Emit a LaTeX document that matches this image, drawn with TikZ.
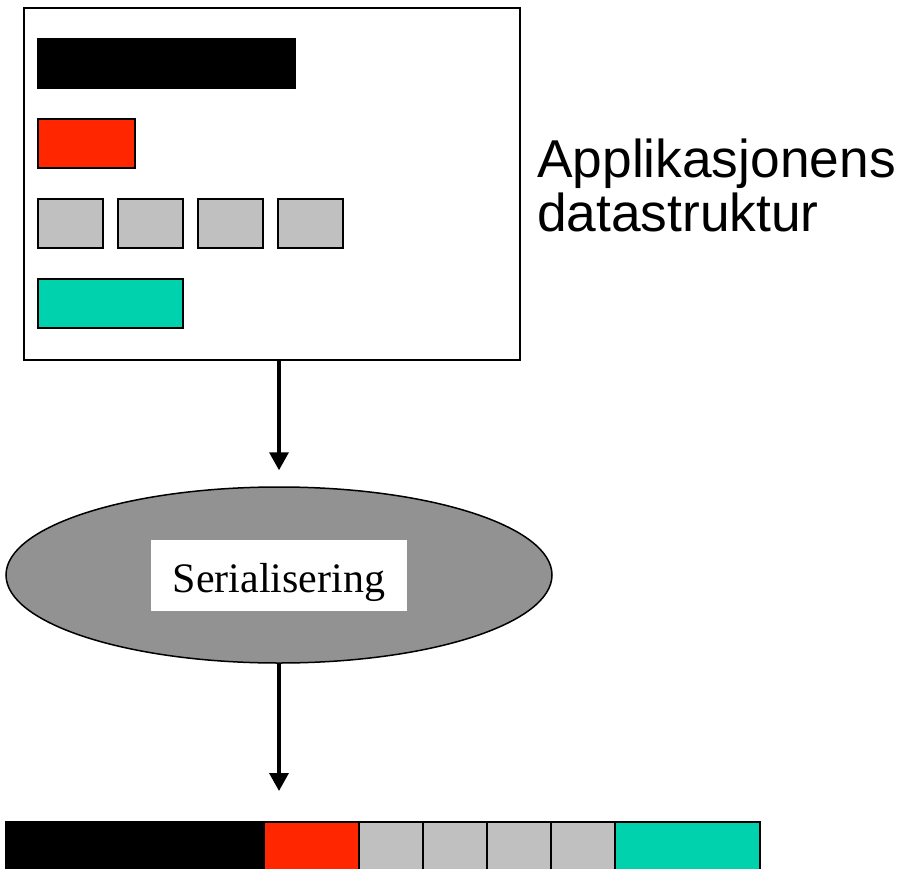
\documentclass[tikz,border=0pt]{standalone}
\usepackage{fontspec}
\setmainfont{Liberation Serif}
\newfontfamily\arialfont{Liberation Sans}
\usetikzlibrary{arrows.meta,shapes.geometric,positioning}
\definecolor{redfill}{RGB}{255,38,0}
\definecolor{tealfill}{RGB}{0,210,173}
\definecolor{greyfill}{RGB}{192,192,192}
\definecolor{ovalfill}{RGB}{146,146,146}
\tikzset{
  cell/.style={draw=black, line width=2pt, anchor=north west, inner sep=0pt, outer sep=0pt,
    minimum width=#1, minimum height=49pt},
  strip/.style={draw=black, line width=1.5pt, anchor=north west, inner sep=0pt, outer sep=0pt,
    minimum width=#1, minimum height=50pt},
  flow/.style={line width=3.5pt, -{Triangle[width=19pt,length=18pt]}},
}
\begin{document}
\begin{tikzpicture}[x=1pt, y=-1pt]
\useasboundingbox (0,0) rectangle (899,869);
\fill[white] (0,0) rectangle (899,869);

% application data structure
\node[draw=black, line width=2pt, anchor=north west, inner sep=0pt,
  minimum width=496pt, minimum height=352pt] (app) at (23,7) {};
\node[cell=257pt, fill=black] (b1) at (38,39) {};
\node[cell=97pt, fill=redfill] (r1) at (38,119) {};
\node[cell=65pt, fill=greyfill] (g1) at (38,199) {};
\node[cell=65pt, fill=greyfill] (g2) at (118,199) {};
\node[cell=65pt, fill=greyfill] (g3) at (198,199) {};
\node[cell=65pt, fill=greyfill] (g4) at (278,199) {};
\node[cell=145pt, fill=tealfill] (t1) at (38,279) {};

\node[anchor=north west, inner sep=0pt, align=left,
  font=\arialfont\fontsize{53.3}{53.5}\selectfont] (lbl) at (537,139)
  {Applikasjonens\\datastruktur};

% serialisation step
\node[ellipse, draw=black, line width=1.5pt, fill=ovalfill, inner sep=0pt,
  minimum width=546pt, minimum height=176pt] (ser) at (279,575) {};
\node[fill=white, inner sep=0pt, minimum width=256pt, minimum height=71pt] (serbox) at (279,575.5) {};
\node[inner sep=0pt, anchor=base, font=\fontsize{42}{42}\selectfont] (sertxt) at (279,592) {Serialisering};

% serialised byte stream
\node[strip=258pt, fill=black] (s1) at (6,822) {};
\node[strip=95pt, fill=redfill] (s2) at (264,822) {};
\node[strip=64pt, fill=greyfill] (s3) at (359,822) {};
\node[strip=64pt, fill=greyfill] (s4) at (423,822) {};
\node[strip=64pt, fill=greyfill] (s5) at (487,822) {};
\node[strip=64pt, fill=greyfill] (s6) at (551,822) {};
\node[strip=145pt, fill=tealfill] (s7) at (615,822) {};

\coordinate (bytestop) at (279,822);
\draw[flow, shorten >=16pt] (app.south -| ser.north) -- (ser.north);
\draw[flow, shorten >=31pt] (ser.south) -- (bytestop);
\end{tikzpicture}
\end{document}
